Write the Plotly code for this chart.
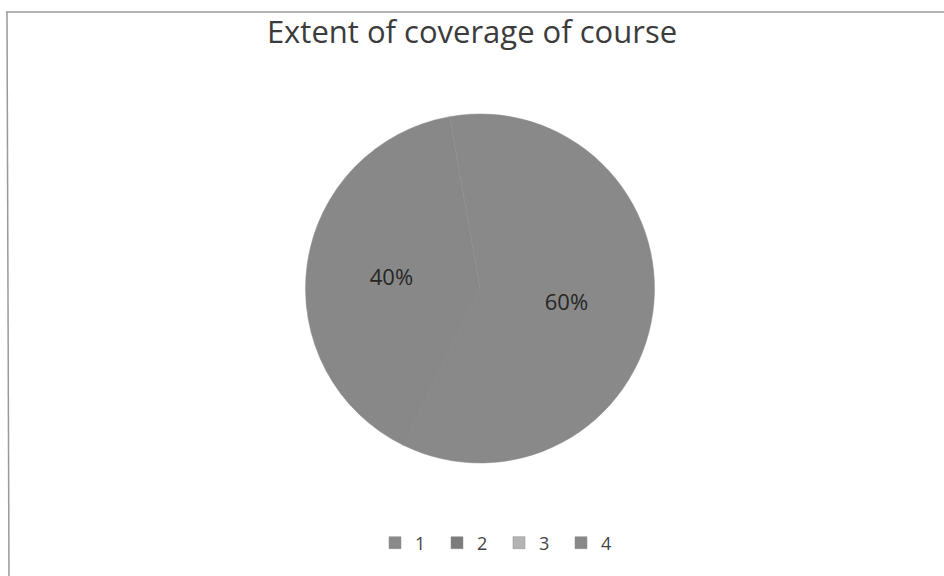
import plotly.graph_objects as go

categories = ["1", "2", "3", "4"]
values = [60, 0, 0, 40]
colors = ["#898989", "#7c7c7c", "#b4b4b4", "#888888"]
title_text = "Extent of coverage of course"

W, H = 944, 576

fig = go.Figure()
fig.add_trace(go.Pie(
    labels=categories,
    values=values,
    sort=False,
    direction="clockwise",
    rotation=-10,
    marker=dict(colors=colors, line=dict(color="#8d8d8d", width=0.5)),
    textinfo="percent",
    texttemplate="%{percent:.0%}",
    textposition="inside",
    insidetextorientation="horizontal",
    textfont=dict(family="Open Sans, Liberation Sans, sans-serif", size=22, color="#262626"),
    hoverinfo="label+percent",
    domain=dict(x=[16 / W, 1], y=[1 - 463 / H, 1 - 114 / H]),
    showlegend=True,
))

fig.update_layout(
    width=W,
    height=H,
    margin=dict(l=0, r=0, t=0, b=0),
    paper_bgcolor="white",
    plot_bgcolor="white",
    title=dict(
        text=title_text,
        x=0.5, xanchor="center",
        y=1 - 32 / H, yanchor="middle",
        font=dict(family="Open Sans, Liberation Sans, sans-serif", size=31, color="#3c3c3c"),
    ),
    legend=dict(
        orientation="h",
        x=0.5 + 27 / W, xanchor="center",
        y=1 - 543 / H, yanchor="middle",
        font=dict(family="Open Sans, Liberation Sans, sans-serif", size=18, color="#444444"),
        itemwidth=30,
        entrywidth=17,
        entrywidthmode="pixels",
        traceorder="normal",
    ),
    shapes=[
        dict(type="line", xref="paper", yref="paper",
             x0=6 / W, x1=1.01, y0=1 - 12 / H, y1=1 - 12 / H,
             line=dict(color="#9a9a9a", width=1.5)),
        dict(type="line", xref="paper", yref="paper",
             x0=7 / W, x1=9 / W, y0=1 - 12 / H, y1=-0.01,
             line=dict(color="#9a9a9a", width=1.5)),
    ],
)

fig.write_html(
    "out.html",
    config={"displayModeBar": False},
    post_script="document.body.style.margin='0';document.body.style.overflow='hidden';",
)
